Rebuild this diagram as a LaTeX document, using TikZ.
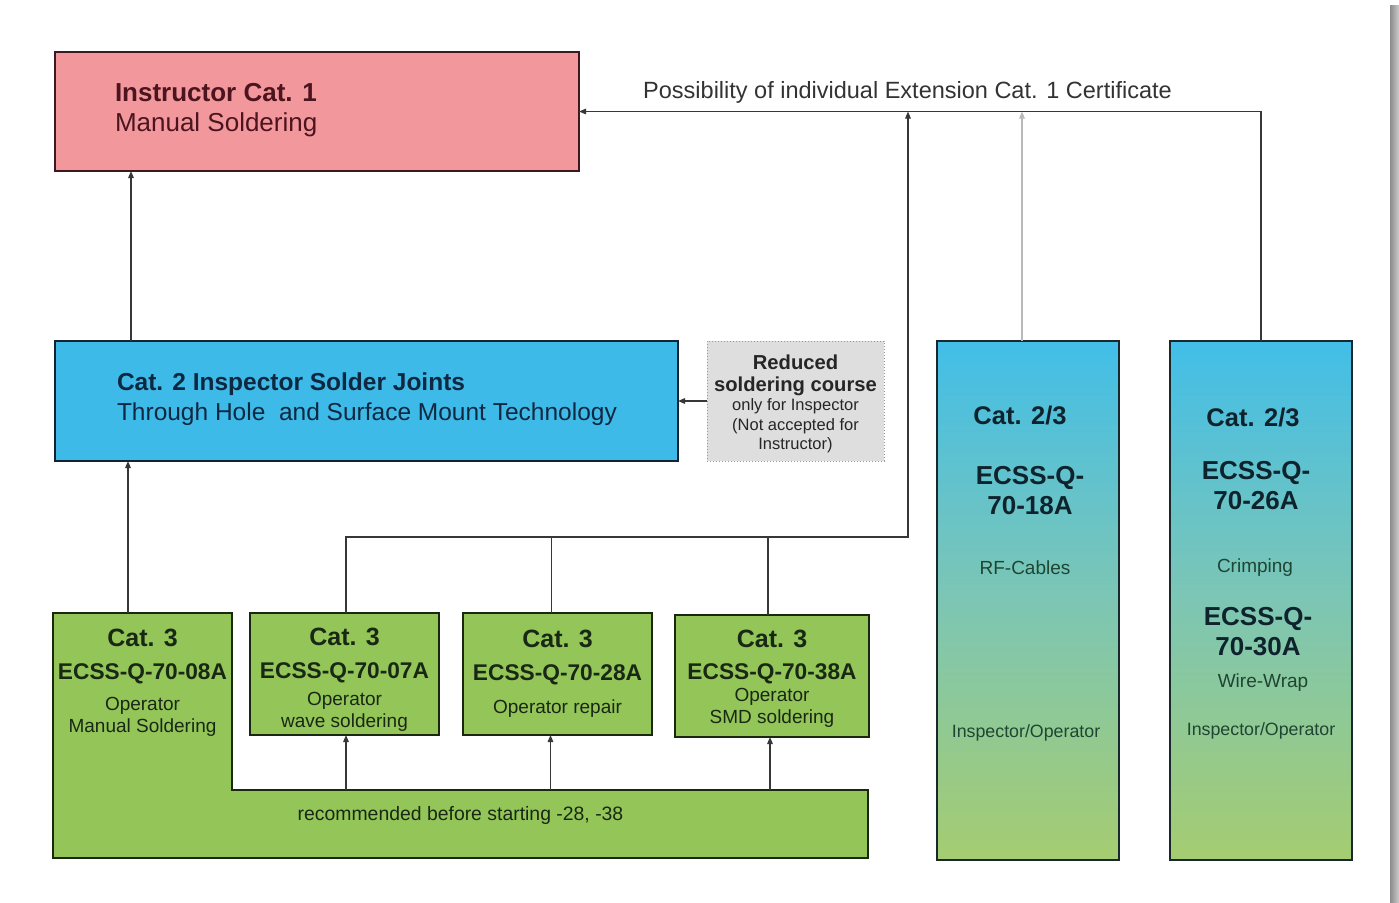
\documentclass[tikz,border=0pt]{standalone}
\usepackage{fontspec}
\setmainfont{Liberation Sans}
\usetikzlibrary{arrows.meta,positioning,backgrounds}

\definecolor{instpink}{RGB}{242,152,156}
\definecolor{instline}{RGB}{60,25,30}
\definecolor{insttext}{RGB}{75,20,30}
\definecolor{catblue}{RGB}{62,186,232}
\definecolor{catline}{RGB}{20,35,50}
\definecolor{cattext}{RGB}{15,40,65}
\definecolor{opgreen}{RGB}{148,197,88}
\definecolor{opline}{RGB}{25,40,15}
\definecolor{optext}{RGB}{25,40,20}
\definecolor{redgrey}{RGB}{222,222,222}
\definecolor{redline}{RGB}{150,150,150}
\definecolor{shadeblue}{RGB}{66,190,232}
\definecolor{shademid}{RGB}{125,198,180}
\definecolor{shadegreen}{RGB}{165,204,112}
\definecolor{tallline}{RGB}{25,40,45}
\definecolor{talltext}{RGB}{15,35,45}
\definecolor{tallsub}{RGB}{30,70,50}
\definecolor{linegrey}{RGB}{55,55,55}
\definecolor{lightline}{RGB}{185,185,185}

\begin{document}
\begin{tikzpicture}[x=1pt,y=-1pt,
  every node/.style={outer sep=0pt},
  bigbox/.style={draw=#1,line width=2.6pt,inner sep=0pt},
  opbox/.style={draw=opline,line width=2.4pt,fill=opgreen,inner sep=0pt,minimum width=189pt,
    minimum height=122pt,align=center,text=optext,font=\fontsize{19}{22}\selectfont},
  optxt/.style={inner sep=0pt,minimum width=179pt,minimum height=134pt,align=center,text=optext,
    font=\fontsize{19}{22}\selectfont},
  tallbox/.style={draw=tallline,line width=2.4pt,top color=shadeblue,bottom color=shadegreen,
    middle color=shademid,minimum width=182pt,minimum height=519pt,inner sep=0pt},
  cathead/.style={font=\fontsize{25.5}{30}\selectfont\bfseries,text=talltext},
  ecss/.style={font=\fontsize{26}{30}\selectfont\bfseries,text=talltext,align=center},
  sub/.style={font=\fontsize{19}{22}\selectfont,text=tallsub},
  arr/.style={-{Triangle[length=7pt,width=5.5pt]},line width=1.3pt,draw=linegrey},
  link/.style={line width=1.3pt,draw=linegrey}]
  \useasboundingbox (0,0) rectangle (1399,902);

  % top and middle row
  \node[bigbox=instline,fill=instpink,minimum width=524pt,minimum height=119pt] (inst) at (317,111.5) {};
  \node[anchor=west,align=left,inner sep=0pt,text=insttext,font=\fontsize{26}{30}\selectfont] (insttxt)
    at ([xshift=60pt,yshift=1.5pt]inst.west) {\textbf{Instructor Cat. 1}\\Manual Soldering};
  \node[bigbox=catline,fill=catblue,minimum width=623pt,minimum height=120pt] (cat2) at (366.5,401) {};
  \node[anchor=west,align=left,inner sep=0pt,text=cattext,font=\fontsize{24.5}{30}\selectfont] (cat2txt)
    at ([xshift=62pt,yshift=2pt]cat2.west) {\textbf{Cat. 2 Inspector Solder Joints}\\Through Hole\ \ and Surface Mount Technology};
  \node[draw=redline,dotted,line width=1pt,fill=redgrey,minimum width=177pt,minimum height=120pt,
    inner sep=0pt,align=center,text=black!85,font=\fontsize{16.5}{19.5}\selectfont] (red) at (795.5,401) {};
  \node[align=center,inner sep=0pt,text=black!85,font=\fontsize{16.5}{19.5}\selectfont] (redtxt)
    at ([yshift=-3pt]red.center)
    {{\fontsize{20.2}{22}\selectfont\bfseries Reduced}\\[2pt]{\fontsize{20.2}{22}\selectfont\bfseries soldering course}\\only for Inspector\\(Not accepted for\\Instructor)};
  \node[text=black!80,font=\fontsize{23.5}{28}\selectfont] (poss) at (907.5,92)
    {Possibility of individual Extension Cat. 1 Certificate};

  % Cat. 3 row
  \node[optxt] (c08) at (142.5,683)
    {{\fontsize{25}{30}\selectfont\bfseries Cat. 3}\\[11pt]{\fontsize{22.7}{26}\selectfont\bfseries ECSS-Q-70-08A}\\[9pt]Operator\\Manual Soldering};
  \node[opbox] (c07) at (344.5,674)
    {{\fontsize{25}{30}\selectfont\bfseries\rule{0pt}{28pt}Cat. 3}\\[11pt]{\fontsize{22.7}{26}\selectfont\bfseries ECSS-Q-70-07A}\\[5pt]Operator\\wave soldering};
  \node[opbox] (c28) at (557.5,674)
    {{\fontsize{25}{30}\selectfont\bfseries Cat. 3}\\[11pt]{\fontsize{22.7}{26}\selectfont\bfseries ECSS-Q-70-28A}\\[11pt]Operator repair};
  \node[opbox,minimum width=194pt] (c38) at (772,676)
    {{\fontsize{25}{30}\selectfont\bfseries\rule{0pt}{22pt}Cat. 3}\\[10pt]{\fontsize{22.7}{26}\selectfont\bfseries ECSS-Q-70-38A}\\Operator\\SMD soldering};
  \node[inner sep=0pt,minimum width=815pt,minimum height=68pt,text=optext,
    font=\fontsize{19.4}{22}\selectfont] (rec) at (460.5,824) {};
  \node[inner sep=0pt,text=optext,font=\fontsize{19.4}{22}\selectfont] (rectxt)
    at ([yshift=9pt]rec.center) {recommended before starting -28, -38};

  % Cat. 2/3 columns
  \node[tallbox] (rf) at (1028,600.5) {};
  \node[cathead] (rfcat) at (1020,416) {Cat. 2/3};
  \node[ecss] (rfno) at (1030,491) {ECSS-Q-\\70-18A};
  \node[sub] (rfsub) at (1025,568) {RF-Cables};
  \node[sub,font=\fontsize{17.8}{22}\selectfont] (rfrole) at (1026,733) {Inspector/Operator};
  \node[tallbox] (cw) at (1261,600.5) {};
  \node[cathead] (cwcat) at (1253,418) {Cat. 2/3};
  \node[ecss] (cwno) at (1256,486) {ECSS-Q-\\70-26A};
  \node[sub] (cwsub) at (1255,568) {Crimping};
  \node[ecss] (wwno) at (1258,632) {ECSS-Q-\\70-30A};
  \node[sub] (wwsub) at (1263,683) {Wire-Wrap};
  \node[sub,font=\fontsize{17.8}{22}\selectfont] (cwrole) at (1261,731) {Inspector/Operator};

  \begin{scope}[on background layer]
    \fill[white] (0,0) rectangle (1399,902);
    \shade[left color=black!45,right color=black!20] (1390,5) rectangle (1399,902);
    \draw[line width=2.4pt,draw=opline,fill=opgreen] (c08.north west |- c07.north) -- (c08.north east |- c07.north)
      -- (c08.east |- rec.north) -- (rec.north east) -- (rec.south east) -- (rec.south west) -- cycle;
  \end{scope}

  % connectors
  \coordinate (busend) at (908,537);
  \draw[arr] ([xshift=76pt]cat2.north west) -- ([xshift=76pt]inst.south west);
  \draw[arr] ([xshift=75pt]c08.north west |- c07.north) -- ([xshift=73pt]cat2.south west);
  \draw[arr] (red.west) -- (cat2.east);
  \draw[arr] (cw.north) |- (inst.east);
  \draw[arr,draw=lightline] ([xshift=-6pt]rf.north) -- ([xshift=-6pt]rf.north |- inst.east);
  \draw[arr] ([xshift=1.5pt]c07.north) |- (busend) -- (busend |- inst.east);
  \draw[link] ([xshift=-6pt]c28.north) -- ([xshift=-6pt]c28.north |- busend);
  \draw[link] ([xshift=-4pt]c38.north) -- ([xshift=-4pt]c38.north |- busend);
  \draw[arr] ([xshift=1.5pt]c07.south |- rec.north) -- ([xshift=1.5pt]c07.south);
  \draw[arr] ([xshift=-7pt]c28.south |- rec.north) -- ([xshift=-7pt]c28.south);
  \draw[arr] ([xshift=-2pt]c38.south |- rec.north) -- ([xshift=-2pt]c38.south);
\end{tikzpicture}
\end{document}
